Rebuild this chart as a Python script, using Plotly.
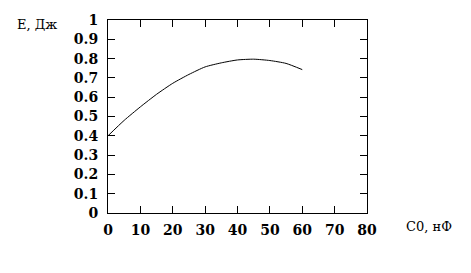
import plotly.graph_objects as go

c0 = [0, 5, 10, 15, 20, 25, 30, 35, 40, 45, 50, 55, 60]
energy = [0.40, 0.48, 0.55, 0.615, 0.672, 0.718, 0.757, 0.778, 0.793, 0.797, 0.79, 0.775, 0.743]
xticks = [0, 10, 20, 30, 40, 50, 60, 70, 80]
yticks = [0, 0.1, 0.2, 0.3, 0.4, 0.5, 0.6, 0.7, 0.8, 0.9, 1]
ytick_labels = ["0", "0.1", "0.2", "0.3", "0.4", "0.5", "0.6", "0.7", "0.8", "0.9", "1"]

SERIF = "DejaVu Serif"

fig = go.Figure()
fig.add_trace(go.Scatter(x=c0, y=energy, mode="lines", line=dict(color="black", width=1, shape="spline", smoothing=0.6)))

font_ticks = dict(family=SERIF, size=14, color="black", weight="bold")
axis_common = dict(showline=True, linecolor="black", linewidth=1, mirror="ticks",
                   ticks="inside", ticklen=7, tickcolor="black", tickwidth=1,
                   showgrid=False, zeroline=False, tickfont=font_ticks)

fig.update_layout(
    width=471, height=273,
    margin=dict(l=108, r=104, t=13, b=60),
    paper_bgcolor="white", plot_bgcolor="white",
    showlegend=False,
    font=dict(family=SERIF),
    xaxis=dict(range=[0, 80], tickvals=xticks, ticklabelstandoff=4, **axis_common),
    yaxis=dict(range=[0, 1], tickvals=yticks, ticktext=ytick_labels, ticklabelstandoff=6, **axis_common),
    annotations=[
        dict(text="E, Дж", xref="paper", yref="paper", x=-0.274, y=0.975, showarrow=False,
             font=dict(family=SERIF, size=13, color="black"), xanchor="center", yanchor="middle"),
        dict(text="C0, нФ", xref="paper", yref="paper", x=1.239, y=-0.07, showarrow=False,
             font=dict(family=SERIF, size=13, color="black"), xanchor="center", yanchor="middle"),
    ],
)

fig.write_html("out.html")
